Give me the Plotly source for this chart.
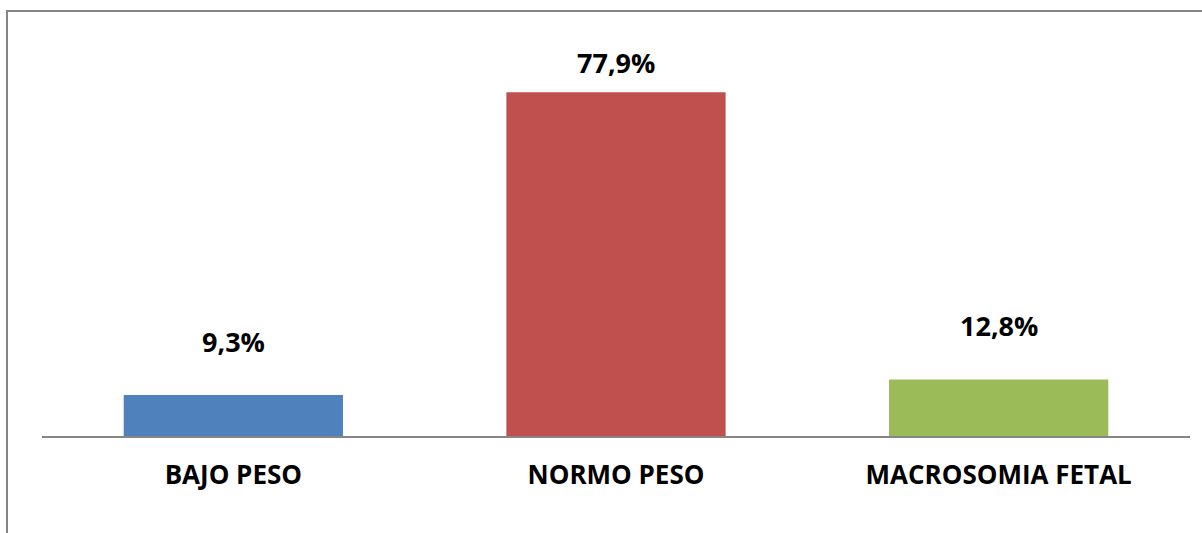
import plotly.graph_objects as go

categories = ["BAJO PESO", "NORMO PESO", "MACROSOMIA FETAL"]
values = [9.3, 77.9, 12.8]
labels = ["9,3%", "77,9%", "12,8%"]
colors = ["#4F81BD", "#C0504D", "#9BBB59"]
label_shift = [53, 30, 54]

W, H = 1202, 533
ml, mr, mt, mb = 42, 12, 40, 97

fig = go.Figure()
fig.add_trace(go.Bar(
    x=categories, y=values,
    marker=dict(color=colors, line=dict(width=0)),
    width=0.573,
    hoverinfo="skip",
))

for c, v, t, s in zip(categories, values, labels, label_shift):
    fig.add_annotation(x=c, y=v, text=t, showarrow=False, yshift=s,
                       xanchor="center", yanchor="middle",
                       font=dict(family="Open Sans", size=27, color="#000000", weight="bold"))

def px_x(p):
    return (p - ml) / (W - ml - mr)

def px_y(p):
    return (H - mb - p) / (H - mt - mb)

# chart frame (top and left)
fig.add_shape(type="line", xref="paper", yref="paper",
              x0=px_x(7), x1=px_x(1202), y0=px_y(11), y1=px_y(11),
              line=dict(color="#868686", width=2))
fig.add_shape(type="line", xref="paper", yref="paper",
              x0=px_x(7), x1=px_x(7), y0=px_y(10), y1=px_y(533),
              line=dict(color="#868686", width=2))

fig.update_layout(
    width=W, height=H,
    margin=dict(l=ml, r=mr, t=mt, b=mb),
    paper_bgcolor="white", plot_bgcolor="white",
    showlegend=False,
    bargap=0.427,
    xaxis=dict(
        showline=True, linecolor="#868686", linewidth=2,
        ticks="", showgrid=False, zeroline=False,
        tickfont=dict(family="Open Sans", size=26, color="#000000", weight="bold"),
        ticklabelstandoff=15,
    ),
    yaxis=dict(
        range=[0, 89.75], visible=False, showgrid=False, zeroline=False,
    ),
)

fig.write_html("out.html")
